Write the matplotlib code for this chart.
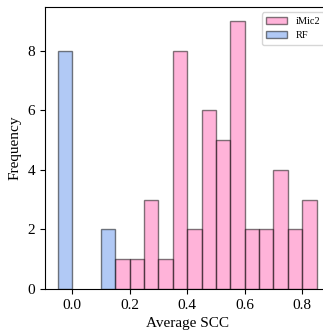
import matplotlib
matplotlib.use("Agg")
import matplotlib.pyplot as plt

# bin left edges and counts
bin_width = 0.05
imic2_edges = [0.15, 0.20, 0.25, 0.30, 0.35, 0.40, 0.45, 0.50, 0.55, 0.60, 0.65, 0.70, 0.75, 0.80]
imic2_counts = [1, 1, 3, 1, 8, 2, 6, 5, 9, 2, 2, 4, 2, 3]
rf_edges = [-0.05, 0.10]
rf_counts = [8, 2]

plt.rcParams['font.family'] = ['Liberation Serif', 'DejaVu Serif']

fig = plt.figure(figsize=(3.23, 3.31), dpi=100)
ax = fig.add_axes([0.139, 0.127, 0.881, 0.851])

ax.bar(imic2_edges, imic2_counts, width=bin_width, align='edge',
       color='hotpink', alpha=0.5, edgecolor='black', linewidth=1, label='iMic2')
ax.bar(rf_edges, rf_counts, width=bin_width, align='edge',
       color='cornflowerblue', alpha=0.5, edgecolor='black', linewidth=1, label='RF')

ax.set_xticks([0.0, 0.2, 0.4, 0.6, 0.8])
ax.set_yticks([0, 2, 4, 6, 8])
ax.tick_params(labelsize=11)
ax.set_xlabel('Average SCC', fontsize=11)
ax.set_ylabel('Frequency', fontsize=11)
ax.legend(loc='upper right', fontsize=7.5)

fig.savefig('out.png', dpi=100)
